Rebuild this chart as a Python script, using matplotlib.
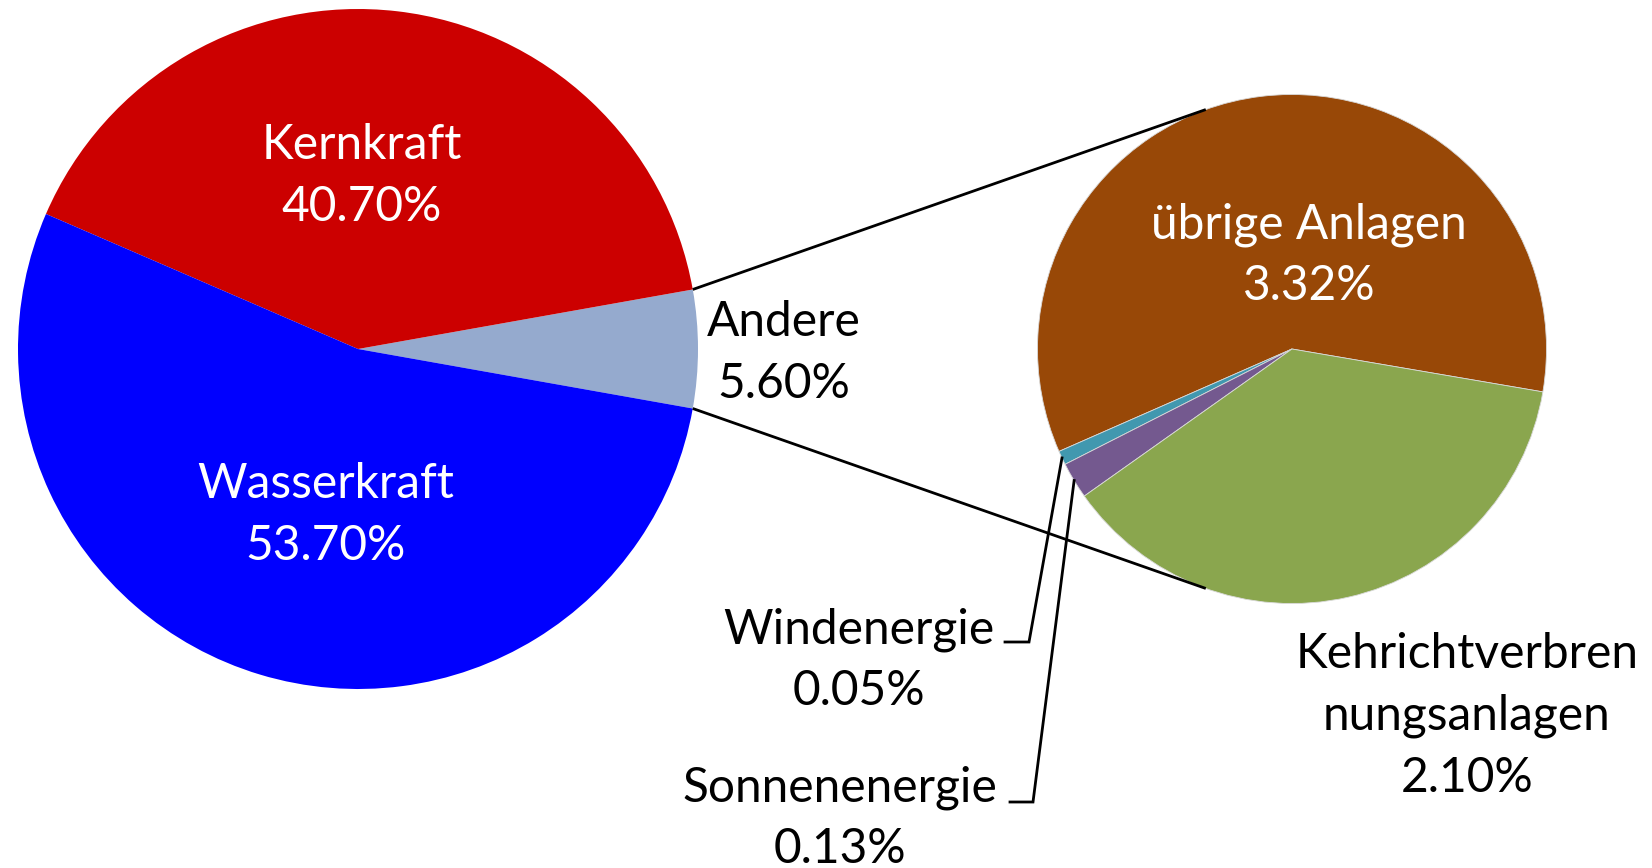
import matplotlib
matplotlib.use("Agg")
import matplotlib.pyplot as plt
import numpy as np

# ---- data ----
main_labels = ["Andere", "Kernkraft", "Wasserkraft"]
main_values = [5.60, 40.70, 53.70]
main_colors = ["#95AACE", "#CC0000", "#0000FF"]

sub_labels = ["übrige Anlagen", "Windenergie", "Sonnenenergie", "Kehrichtverbren\nnungsanlagen"]
sub_values = [3.32, 0.05, 0.13, 2.10]
sub_colors = ["#984807", "#4198AF", "#74598F", "#8AA64E"]

W, H = 1652, 868
fig = plt.figure(figsize=(W / 100, H / 100), dpi=100)
ax = fig.add_axes([0, 0, 1, 1])

def Y(y):
    return H - y

FONT = ["Lato", "DejaVu Sans"]
FS = 34.5

c1 = (358, Y(349)); r1 = 340
c2 = (1292, Y(349)); r2 = 254.5

start1 = -main_values[0] / sum(main_values) * 180
w1, _ = ax.pie(main_values, colors=main_colors, startangle=start1, counterclock=True,
               radius=r1, center=c1, wedgeprops=dict(linewidth=0))
w2, _ = ax.pie(sub_values, colors=sub_colors, startangle=-9.7, counterclock=True,
               radius=r2, center=c2, wedgeprops=dict(linewidth=0.6, edgecolor="#d9d9d9"))

ax.set_xlim(0, W)
ax.set_ylim(0, H)
ax.set_aspect("equal")
ax.axis("off")

def pt(c, r, ang):
    a = np.deg2rad(ang)
    return c[0] + r * np.cos(a), c[1] + r * np.sin(a)

LW = 2.0
# connector lines between pies
a_top = w1[0].theta2
a_bot = w1[0].theta1
p1 = pt(c1, r1, a_top); q1 = pt(c2, r2, 109.8)
p2 = pt(c1, r1, a_bot); q2 = pt(c2, r2, -109.8)
ax.plot([p1[0], q1[0]], [p1[1], q1[1]], color="black", lw=LW, solid_capstyle="butt")
ax.plot([p2[0], q2[0]], [p2[1], q2[1]], color="black", lw=LW, solid_capstyle="butt")

def fmt(v):
    return f"{v:.2f}%"

def label(x, y, text, color="black"):
    ax.text(x, Y(y), text, ha="center", va="center", fontsize=FS, color=color,
            family=FONT, linespacing=1.48)

# main pie labels
label(362, 176, f"{main_labels[1]}\n{fmt(main_values[1])}", "white")
label(326, 515, f"{main_labels[2]}\n{fmt(main_values[2])}", "white")
label(784, 353, f"{main_labels[0]}\n{fmt(main_values[0])}")

# sub pie labels
label(1309, 255, f"{sub_labels[0]}\n{fmt(sub_values[0])}", "white")
label(1467, 716, f"{sub_labels[3]}\n{fmt(sub_values[3])}")
label(859, 660, f"{sub_labels[1]}\n{fmt(sub_values[1])}")
label(840, 818, f"{sub_labels[2]}\n{fmt(sub_values[2])}")

# leader lines for small slices
def leader(wedge, elbow, end):
    mid = (wedge.theta1 + wedge.theta2) / 2
    s = pt(c2, r2, mid)
    ax.plot([s[0], elbow[0], end[0]], [s[1], Y(elbow[1]), Y(end[1])],
            color="black", lw=LW, solid_joinstyle="miter")

leader(w2[1], (1029, 642), (1005, 642))
leader(w2[2], (1033, 802), (1010, 802))

fig.savefig("out.png", dpi=100, facecolor="white")
